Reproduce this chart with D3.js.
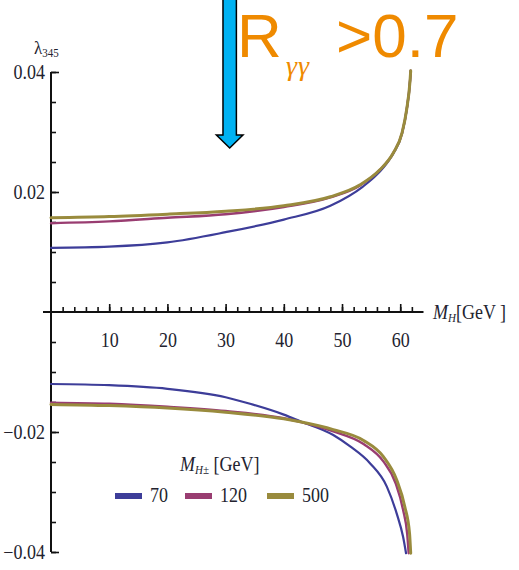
<!DOCTYPE html>
<html>
<head>
    <meta charset="UTF-8">
    <title>lambda345 vs M_H</title>
    <style>
      body { margin: 0; background: #fff; }
      svg text { fill: #23232f; }
    </style>
    <script src="https://cdn.jsdelivr.net/npm/d3@7"></script>
</head>
<body>
<svg id="chart" width="519" height="570"></svg>
<script>
// curves: [M_H in GeV, lambda_345]
var upper70  = [[0,0.0107],[10,0.0109],[20,0.0116],[30,0.0133],[40,0.0154],[48,0.0177],[53.6,0.0209],
                [56,0.0229],[58,0.0252],[58.8,0.0264],[60.3,0.0297],[61.1,0.0336],[61.7,0.0387],[61.8,0.0402]]
var upper120 = [[0,0.0148],[10,0.0151],[20,0.0157],[30,0.0163],[40,0.0175],[48,0.0191],[53.1,0.0211],
                [56.5,0.0237],[58.8,0.0265],[60.3,0.0298],[61.1,0.0337],[61.7,0.0387],[61.8,0.0402]]
var upper500 = [[0,0.0157],[10,0.0159],[20,0.0163],[30,0.0168],[40,0.0177],[48,0.0192],[53.1,0.0212],
                [56.5,0.0237],[58.8,0.0265],[60.3,0.0298],[61.1,0.0337],[61.7,0.0387],[61.8,0.0402]]
var lower70  = [[0,-0.0120],[10,-0.0122],[20,-0.0128],[30,-0.0142],[34.2,-0.0153],[40,-0.0171],[42.8,-0.0182],
                [48.5,-0.0205],[51.4,-0.0224],[54.8,-0.0252],[57.7,-0.0291],[59.4,-0.0336],[60.5,-0.0375],[61.0,-0.0402]]
var lower120 = [[0,-0.0151],[10,-0.0153],[20,-0.0158],[30,-0.0165],[40,-0.0177],[42.8,-0.0183],[48.5,-0.0199],
                [53.7,-0.0220],[57.1,-0.0249],[59.2,-0.0285],[60.5,-0.0330],[61.2,-0.0370],[61.45,-0.0402]]
var lower500 = [[0,-0.0154],[10,-0.0156],[20,-0.0160],[30,-0.0167],[40,-0.0178],[42.8,-0.0183],[48.5,-0.0196],
                [53.7,-0.0214],[57.1,-0.0241],[59.4,-0.0280],[60.8,-0.0325],[61.6,-0.0369],[61.8,-0.0402]]

var massLabels = ["70", "120", "500"]
var colors = ["#3d3d99", "#993d71", "#998b3d"]
var widths = [2.2, 2.4, 3]
var xTicks = [10, 20, 30, 40, 50, 60]
var yTicks = [-0.04, -0.02, 0.02, 0.04]

var svg = d3.select("#chart")
var x = d3.scaleLinear().domain([0, 64]).range([51, 423.5])
var y = d3.scaleLinear().domain([-0.04, 0.04]).range([552, 72])
var stretch = "scale(1,1.14)"
var serif = "'Liberation Serif', 'Times New Roman', serif"
var sans = "'Liberation Sans', Arial, sans-serif"

// the arrow and the R cut
var ax = x(30.7)
svg.append("path")
   .attr("d", "M" + (ax-6.7) + ",-5 V135 H" + (ax-13.3) + " L" + ax + ",148 L" + (ax+13.3) + ",135 H" + (ax+6.7) + " V-5 Z")
   .attr("fill", "#00b2f2").attr("stroke", "#000").attr("stroke-width", 1.5)
svg.append("text").attr("x", 237).attr("y", 56.5).attr("font-size", 62)
   .style("font-family", sans).style("fill", "#ef8a00").text("R")
svg.append("text").attr("x", 286).attr("y", 75).attr("font-size", 28).attr("font-style", "italic")
   .attr("letter-spacing", 1).style("font-family", serif).style("fill", "#ef8a00").text("γγ")
svg.append("text").attr("x", 336).attr("y", 56.5).attr("font-size", 62)
   .style("font-family", sans).style("fill", "#ef8a00").text(">0.7")

// axes
var yMinor = d3.axisLeft(y).tickValues(d3.range(-0.04, 0.0401, 0.005).filter(function(v){ return Math.abs(v) > 1e-9 }))
  .tickSizeInner(-5).tickSizeOuter(0).tickFormat("")
svg.append("g").attr("transform", "translate(" + x(0) + ",0)").call(yMinor)
var yMajor = d3.axisLeft(y).tickValues(yTicks).tickSizeInner(-8).tickSizeOuter(0).tickPadding(6).tickFormat(d3.format(".2f"))
svg.append("g").attr("transform", "translate(" + x(0) + ",0)").call(yMajor)

var xMinor = d3.axisBottom(x).tickValues(d3.range(2, 63, 2)).tickSizeInner(-5).tickSizeOuter(0).tickFormat("")
svg.append("g").attr("transform", "translate(0," + y(0) + ")").call(xMinor)
var xMajor = d3.axisBottom(x).tickValues(xTicks).tickSizeInner(-8).tickSizeOuter(0).tickPadding(18)
svg.append("g").attr("transform", "translate(0," + y(0) + ")").call(xMajor)

svg.selectAll(".domain").remove()
svg.selectAll(".tick line").attr("stroke", "#111").attr("stroke-width", 1.6)
svg.selectAll(".tick text").attr("font-size", 18).attr("transform", stretch)
   .style("font-family", serif).style("fill", "#23232f")
svg.append("line").attr("x1", x(0)).attr("x2", x(0)).attr("y1", y(0.04)).attr("y2", y(-0.04))
   .attr("stroke", "#111").attr("stroke-width", 2)
svg.append("line").attr("x1", x(0) - 8).attr("x2", x(64)).attr("y1", y(0)).attr("y2", y(0))
   .attr("stroke", "#111").attr("stroke-width", 2)

// axis titles
var yl = svg.append("text").attr("transform", "translate(34,54) " + stretch).attr("font-size", 17).style("font-family", serif)
yl.append("tspan").text("λ")
yl.append("tspan").attr("font-size", 11).attr("dy", 3).text("345")
var xl = svg.append("text").attr("transform", "translate(433,319) " + stretch).attr("font-size", 18).style("font-family", serif)
xl.append("tspan").attr("font-style", "italic").text("M")
xl.append("tspan").attr("font-style", "italic").attr("font-size", 11).attr("dy", 3).text("H")
xl.append("tspan").attr("dy", -3).text("[GeV ]")

// curves
var line = d3.line().x(function(d){ return x(d[0]) }).y(function(d){ return y(d[1]) }).curve(d3.curveMonotoneX)
var upper = [upper70, upper120, upper500]
var lower = [lower70, lower120, lower500]
for (var i = 0; i < 3; i++) {
  [upper[i], lower[i]].forEach(function(pts) {
    svg.append("path").attr("d", line(pts)).attr("fill", "none")
       .attr("stroke", colors[i]).attr("stroke-width", widths[i]).attr("stroke-linecap", "round")
  })
}

// legend
var lt = svg.append("text").attr("transform", "translate(180,471) " + stretch).attr("font-size", 18).style("font-family", serif)
lt.append("tspan").attr("font-style", "italic").text("M")
lt.append("tspan").attr("font-style", "italic").attr("font-size", 11).attr("dy", 3).text("H±")
lt.append("tspan").attr("dy", -3).text(" [GeV]")
var legendX = [115, 185, 267]
massLabels.forEach(function(m, i) {
  svg.append("line").attr("x1", legendX[i]).attr("x2", legendX[i] + 27).attr("y1", 496).attr("y2", 496)
     .attr("stroke", colors[i]).attr("stroke-width", 6)
  svg.append("text").attr("transform", "translate(" + (legendX[i] + 35) + ",502) " + stretch)
     .attr("font-size", 18).style("font-family", serif).text(m)
})
</script>
</body>
</html>
